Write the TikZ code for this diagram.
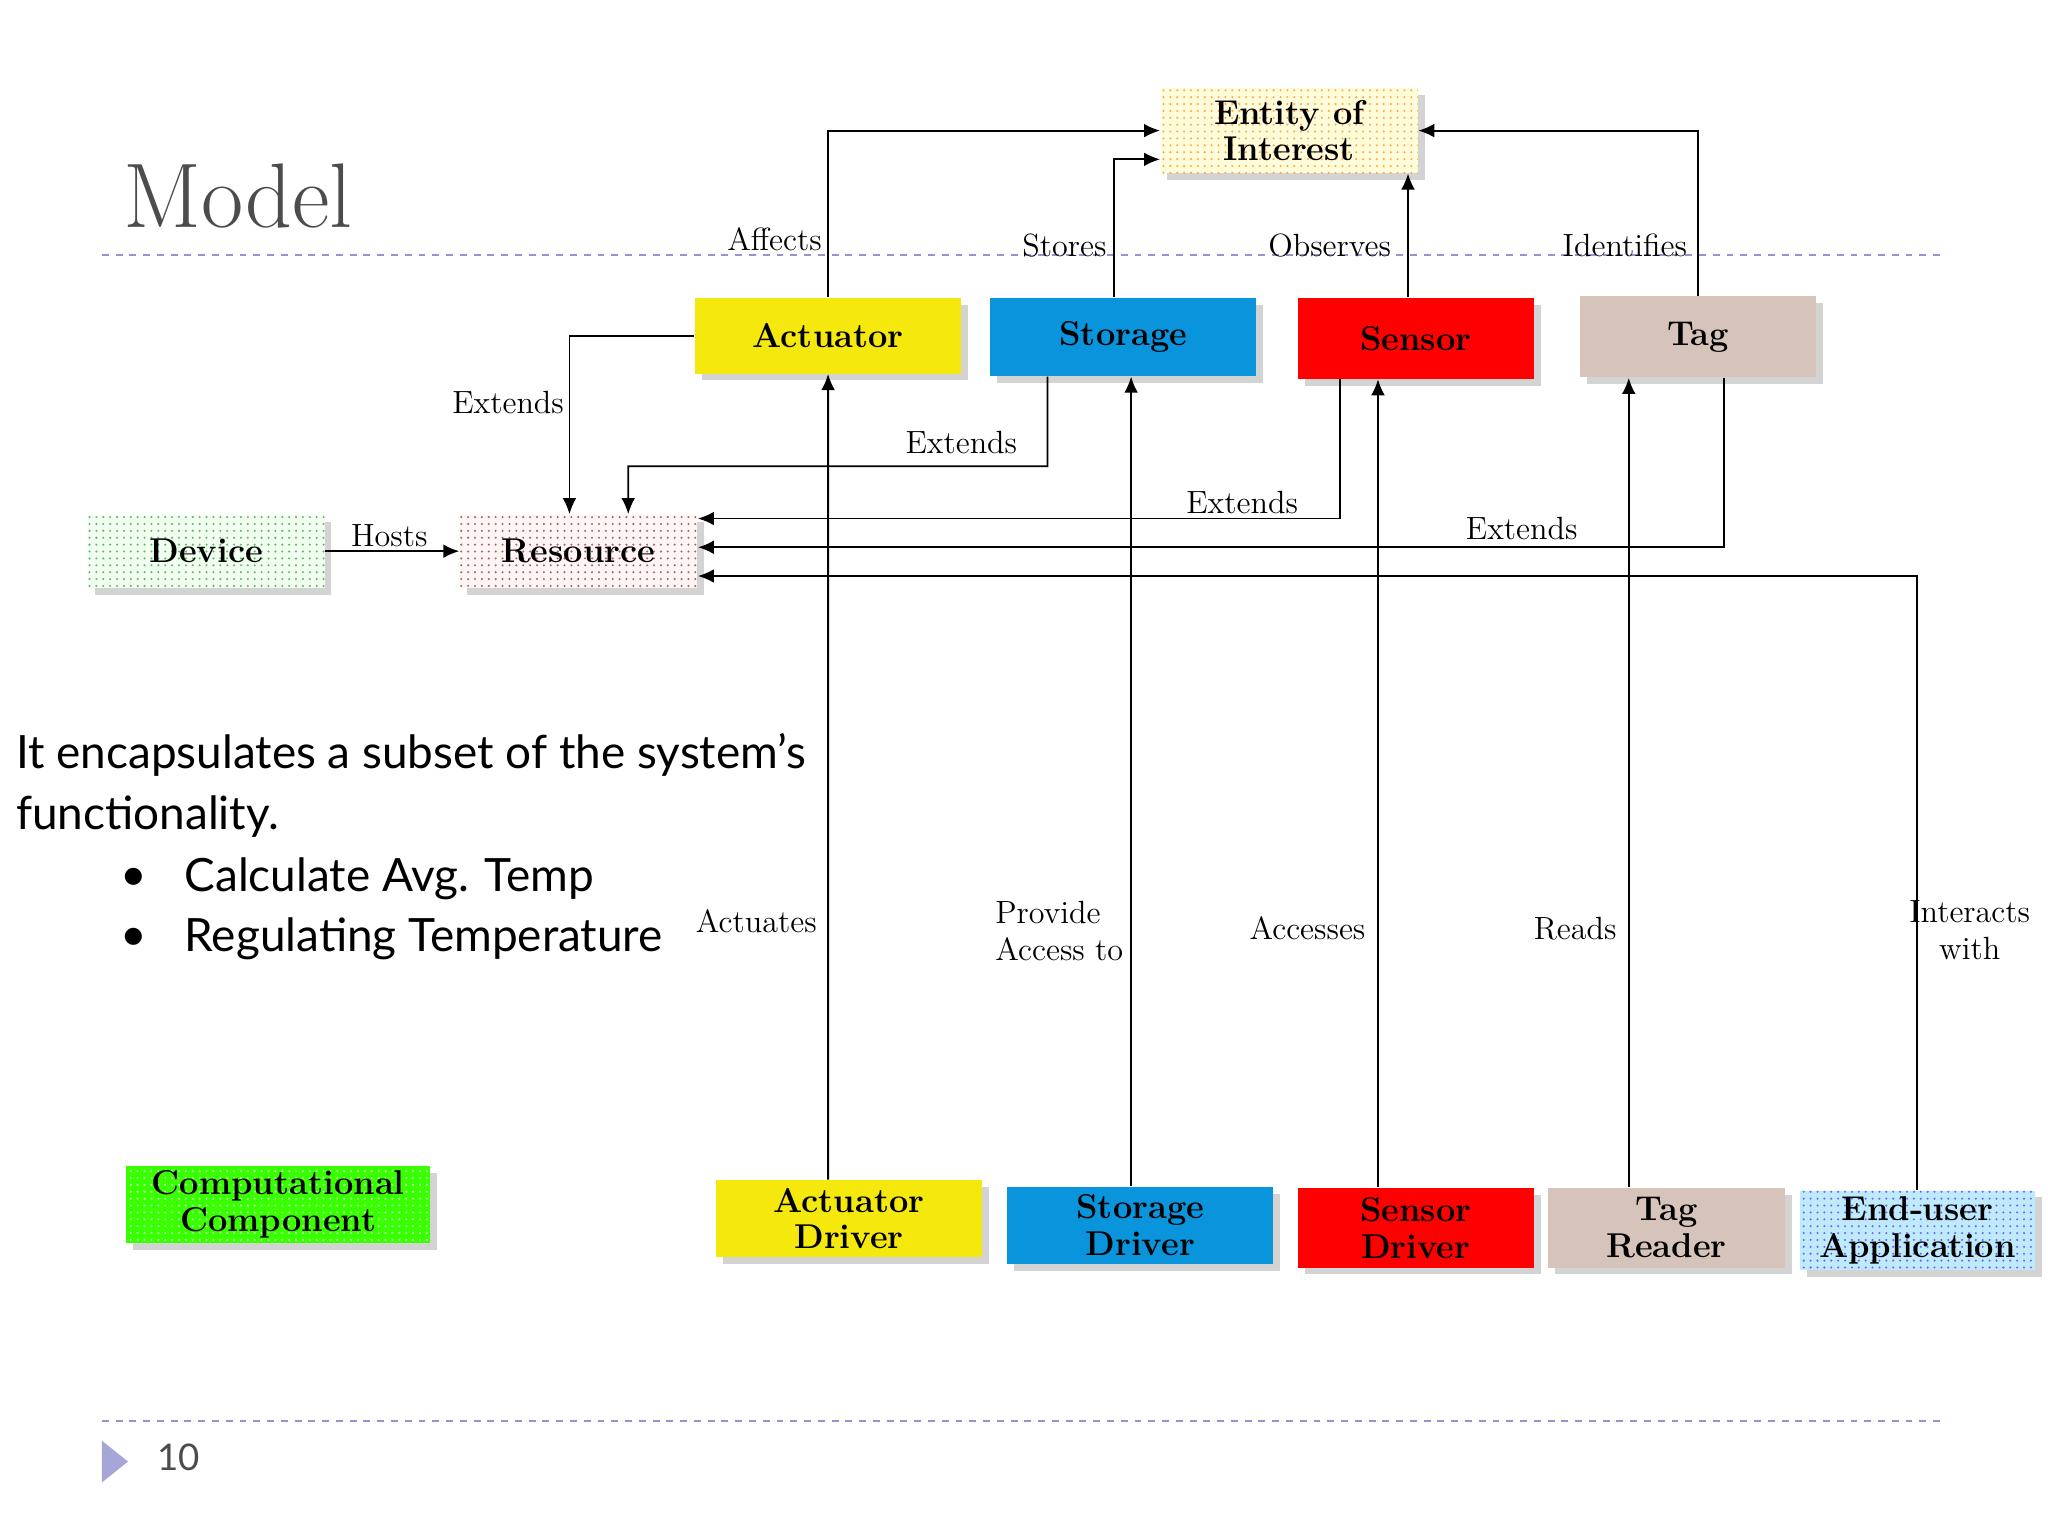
\documentclass[tikz,border=0pt]{standalone}
\usepackage{fontspec}
\newfontfamily\sans{Lato}
\usetikzlibrary{patterns,shadows,arrows.meta}
\begin{document}
\begin{tikzpicture}[x=0.02cm,y=-0.02cm,
 box/.style={draw=none,font=\bfseries\fontsize{15}{16}\selectfont,align=center,inner sep=0pt,drop shadow={shadow xshift=3pt,shadow yshift=-3pt,opacity=0.35}},
 lbl/.style={font=\fontsize{14}{16}\selectfont,align=center,inner sep=1pt},
 arr/.style={-{Latex[length=7pt,width=6pt]},line width=0.8pt},
 dashl/.style={dashed,draw=gray!60!blue!60,line width=0.8pt}]
\useasboundingbox (0,0) rectangle (1568,1176);
\node[anchor=west,text=black!70,font=\fontsize{40}{44}\selectfont] (title) at (88,150) {Model};
\draw[dashl] (78,195) -- (1490,195);
\draw[dashl] (78,1088) -- (1490,1088);
\fill[gray!60!blue!50] (78,1103) -- (98,1119) -- (78,1135) -- cycle;
\node[font=\sans\fontsize{16}{18}\selectfont,text=black!70] (pg) at (137,1116) {10};

\node[box,fill=yellow!15,minimum width=3.94cm,minimum height=1.3cm,postaction={pattern=dots,pattern color=orange!70}] (E) at (987,100) {Entity of\\Interest};
\node[box,fill=yellow!95!black,minimum width=4.08cm,minimum height=1.16cm] (A) at (634,257) {Actuator};
\node[box,fill=cyan!80!blue,minimum width=4.08cm,minimum height=1.2cm] (S) at (860,258) {Storage};
\node[box,fill=red,minimum width=3.62cm,minimum height=1.24cm] (Se) at (1084,259) {Sensor};
\node[box,fill={rgb,255:red,214;green,196;blue,186},minimum width=3.62cm,minimum height=1.24cm] (T) at (1300,258) {Tag};
\node[box,fill=green!6,minimum width=3.62cm,minimum height=1.12cm,postaction={pattern=dots,pattern color=green!50!black!60}] (D) at (158,422) {Device};
\node[box,fill=red!4,minimum width=3.64cm,minimum height=1.12cm,postaction={pattern=dots,pattern color=red!40!black!60}] (R) at (443,422) {Resource};
\node[box,fill=green!70!lime,minimum width=4.66cm,minimum height=1.18cm,postaction={pattern=dots,pattern color=green!30}] (CC) at (213,922) {Computational\\Component};
\node[box,fill=yellow!95!black,minimum width=4.08cm,minimum height=1.18cm] (AD) at (650,933) {Actuator\\Driver};
\node[box,fill=cyan!80!blue,minimum width=4.08cm,minimum height=1.18cm] (SD) at (873,938) {Storage\\Driver};
\node[box,fill=red,minimum width=3.62cm,minimum height=1.22cm] (SeD) at (1084,940) {Sensor\\Driver};
\node[box,fill={rgb,255:red,214;green,196;blue,186},minimum width=3.64cm,minimum height=1.22cm] (TR) at (1276,940) {Tag\\Reader};
\node[box,fill=cyan!25,minimum width=3.6cm,minimum height=1.22cm,postaction={pattern=dots,pattern color=blue!60}] (EU) at (1468,942) {End-user\\Application};

\draw[arr] (A.north) |- (E.west);
\draw[arr] ([xshift=-0.14cm]S.north) |- ([yshift=-0.44cm]E.west);
\draw[arr] ([xshift=-0.12cm]Se.north) -- ([xshift=-0.12cm]Se.north |- E.south);
\draw[arr] (T.north) |- (E.east);
\draw[arr] (A.west) -| ([xshift=-0.14cm]R.north);
\coordinate (s1) at (802,357);
\draw[arr] ([xshift=-1.16cm]S.south) -- (s1) -| ([xshift=0.76cm]R.north);
\draw[arr] ([xshift=-1.16cm]Se.south) |- ([yshift=0.5cm]R.east);
\draw[arr] ([xshift=0.4cm]T.south) |- ([yshift=0.06cm]R.east);
\draw[arr] (EU.north) |- ([yshift=-0.38cm]R.east);
\draw[arr] (D) -- (R);
\draw[arr] ([xshift=-0.32cm]AD.north) -- (A.south);
\draw[arr] ([xshift=-0.14cm]SD.north) -- ([xshift=-0.14cm]SD.north |- S.south);
\draw[arr] ([xshift=-0.58cm]SeD.north) -- ([xshift=-0.58cm]SeD.north |- Se.south);
\draw[arr] ([xshift=-0.58cm]TR.north) -- ([xshift=-0.58cm]TR.north |- T.south);

\node[lbl] (l1) at (593,183) {Affects};
\node[lbl] (l2) at (815,188) {Stores};
\node[lbl] (l3) at (1018,188) {Observes};
\node[lbl] (l4) at (1244,188) {Identifies};
\node[lbl] (l5) at (389,308) {Extends};
\node[lbl] (l6) at (736,339) {Extends};
\node[lbl] (l7) at (951,385) {Extends};
\node[lbl] (l8) at (1165,405) {Extends};
\node[lbl] (l9) at (298,410) {Hosts};
\node[lbl] (l10) at (579,705) {Actuates};
\node[lbl,align=left] (l11) at (811,713) {Provide\\Access to};
\node[lbl] (l12) at (1001,711) {Accesses};
\node[lbl] (l13) at (1206,711) {Reads};
\node[lbl] (l14) at (1508,712) {Interacts\\with};

\begin{scope}[every node/.style={anchor=west,font=\sans\fontsize{20}{22}\selectfont,inner sep=0pt}]
\node (t1) at (12,578) {It encapsulates a subset of the system’s};
\node (t2) at (12,625) {functionality.};
\node (b1) at (92,673) {•};
\node (t3) at (141,673) {Calculate Avg. Temp};
\node (b2) at (92,719) {•};
\node (t4) at (141,719) {Regulating Temperature};
\end{scope}
\end{tikzpicture}
\end{document}
